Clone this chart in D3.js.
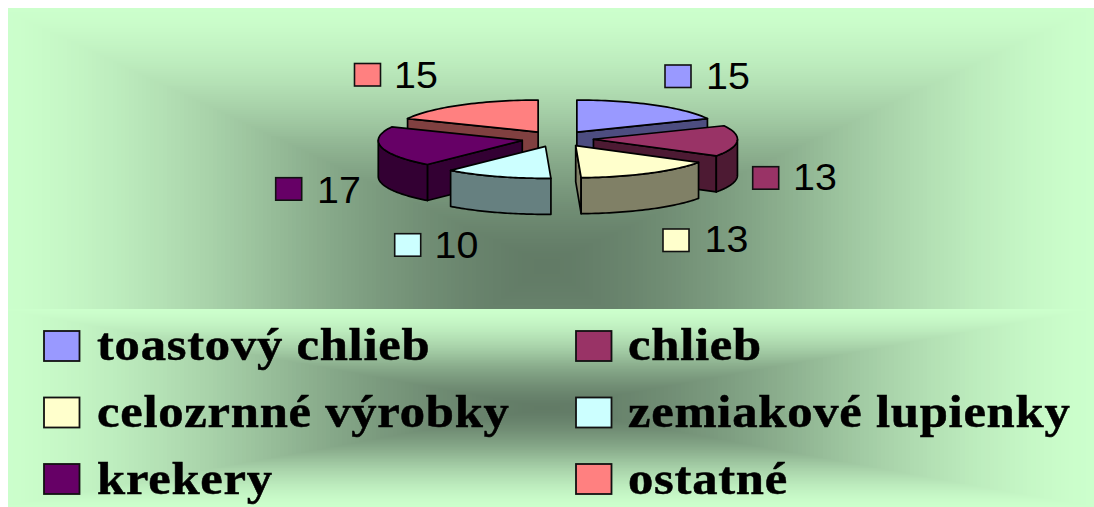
<!DOCTYPE html>
<html><head><meta charset="utf-8">
<script src="https://cdn.jsdelivr.net/npm/d3@7/dist/d3.min.js"></script>
<style>html,body{margin:0;padding:0;background:#fff;overflow:hidden}svg{display:block}</style>
</head><body>
<svg id="c" width="1094" height="507"></svg>
<script>
const categories = ["toastový chlieb","chlieb","celozrnné výrobky","zemiakové lupienky","krekery","ostatné"];
const values = [15,13,13,10,17,15];
const topColors = ["#9999FF","#993366","#FFFFCC","#CCFFFF","#660066","#FF8080"];
const sideColors = ["#4D4D80","#4D1A33","#808066","#668080","#330033","#804040"];
const paintOrder = [5,0,4,1,3,2];

const svg = d3.select("#c");
const defs = svg.append("defs");
const light="#CCFFCC", dark="#627B66";
const ramp = d3.interpolateRgb(dark, light);
const ease = d3.easePolyInOut.exponent(1.5);

function panel(id,x0,y0,x1,y1,cx,cy,hTop,hBot){
  defs.append("clipPath").attr("id","clip"+id).append("rect")
    .attr("x",x0).attr("y",y0).attr("width",x1-x0).attr("height",y1-y0);
  const g = svg.append("g").attr("clip-path",`url(#clip${id})`).attr("shape-rendering","crispEdges");
  const halfW = Math.max(cx-x0,x1-cx);
  g.selectAll("rect").data(d3.range(131,-1,-1)).join("rect")
    .attr("x",k=>cx-halfW*(k+1)/131).attr("y",k=>cy-hTop*(k+1)/131)
    .attr("width",k=>2*halfW*(k+1)/131).attr("height",k=>(hTop+hBot)*(k+1)/131)
    .attr("fill",k=>ramp(ease(k/131)));
}
panel("A",8,8,1094,309,547,265,257,400);
panel("B",8,309,1094,507,547,408,99,99);

// 3D exploded pie
const rx=144, ry=32, depth=36, explode=0.25, cx=557.5, cy=138.8;
const X=d3.scaleLinear().domain([-1,1]).range([cx-rx,cx+rx]);
const Y=d3.scaleLinear().domain([-1,1]).range([cy-ry,cy+ry]);
const arcs=d3.pie().sort(null).value(d=>d)(values);
const line=d3.line();
const pie=svg.append("g").attr("stroke","#000").attr("stroke-width",1.7).attr("stroke-linejoin","round");
paintOrder.forEach(i=>{
  const a=arcs[i], s=a.startAngle, e=a.endAngle, mid=(s+e)/2;
  const ox=explode*Math.sin(mid), oy=-explode*Math.cos(mid);
  const P=(t,r,dz=0)=>[X(ox+r*Math.sin(t)),Y(oy-r*Math.cos(t))+dz];
  const arcPts=(t0,t1,dz=0)=>d3.range(0,41).map(k=>P(t0+(t1-t0)*k/40,1,dz));
  const wall=t=>[P(t,0),P(t,1),P(t,1,depth),P(t,0,depth)];
  if(Math.sin(s)<-1e-6) pie.append("path").attr("d",line(wall(s))+"Z").attr("fill",sideColors[i]);
  if(Math.sin(e)>1e-6) pie.append("path").attr("d",line(wall(e))+"Z").attr("fill",sideColors[i]);
  const v0=Math.max(s,Math.PI/2), v1=Math.min(e,3*Math.PI/2);
  if(v1>v0){
    pie.append("path").attr("d",line(arcPts(v0,v1).concat(arcPts(v1,v0,depth)))+"Z").attr("fill",sideColors[i]);
  }
  pie.append("path").attr("d",line([P(s,0)].concat(arcPts(s,e)))+"Z").attr("fill",topColors[i]);
});

// data labels
const labelKeyX=[665,752.7,663,394.7,275.7,354.5];
const labelKeyY=[65,166.7,229,233.7,177.7,63.5];
const labelTextX=[706,793,704.5,434.5,317,394];
const labelBase=[89,190,252,257.7,202.7,87.7];
const lab=svg.append("g");
values.forEach((v,i)=>{
  lab.append("rect").attr("x",labelKeyX[i]).attr("y",labelKeyY[i]).attr("width",26).attr("height",22.5)
    .attr("fill",topColors[i]).attr("stroke","#111").attr("stroke-width",1.6);
  lab.append("text").attr("transform",`translate(${labelTextX[i]},${labelBase[i]}) scale(1.05,1)`)
    .attr("font-family","'Liberation Sans',Arial,sans-serif").attr("font-size",37.5).attr("fill","#000").text(v);
});

// legend
const legendX=[44,576], legendTextX=[97,628], legendKeyY=[331,397.5,464], legendBase=[360,427,493.5];
const leg=svg.append("g");
categories.forEach((c,i)=>{
  const col=i%2,row=Math.floor(i/2);
  leg.append("rect").attr("x",legendX[col]).attr("y",legendKeyY[row]).attr("width",35.5).attr("height",30)
    .attr("fill",topColors[i]).attr("stroke","#111").attr("stroke-width",1.8);
  leg.append("text").attr("transform",`translate(${legendTextX[col]},${legendBase[row]}) scale(1.1,1)`)
    .attr("font-family","'Liberation Serif','Times New Roman',serif").attr("font-weight","bold")
    .attr("letter-spacing",0.7).attr("font-size",46).attr("fill","#000")
    .attr("stroke","#000").attr("stroke-width",0.5).text(c);
});
</script>
</body></html>
